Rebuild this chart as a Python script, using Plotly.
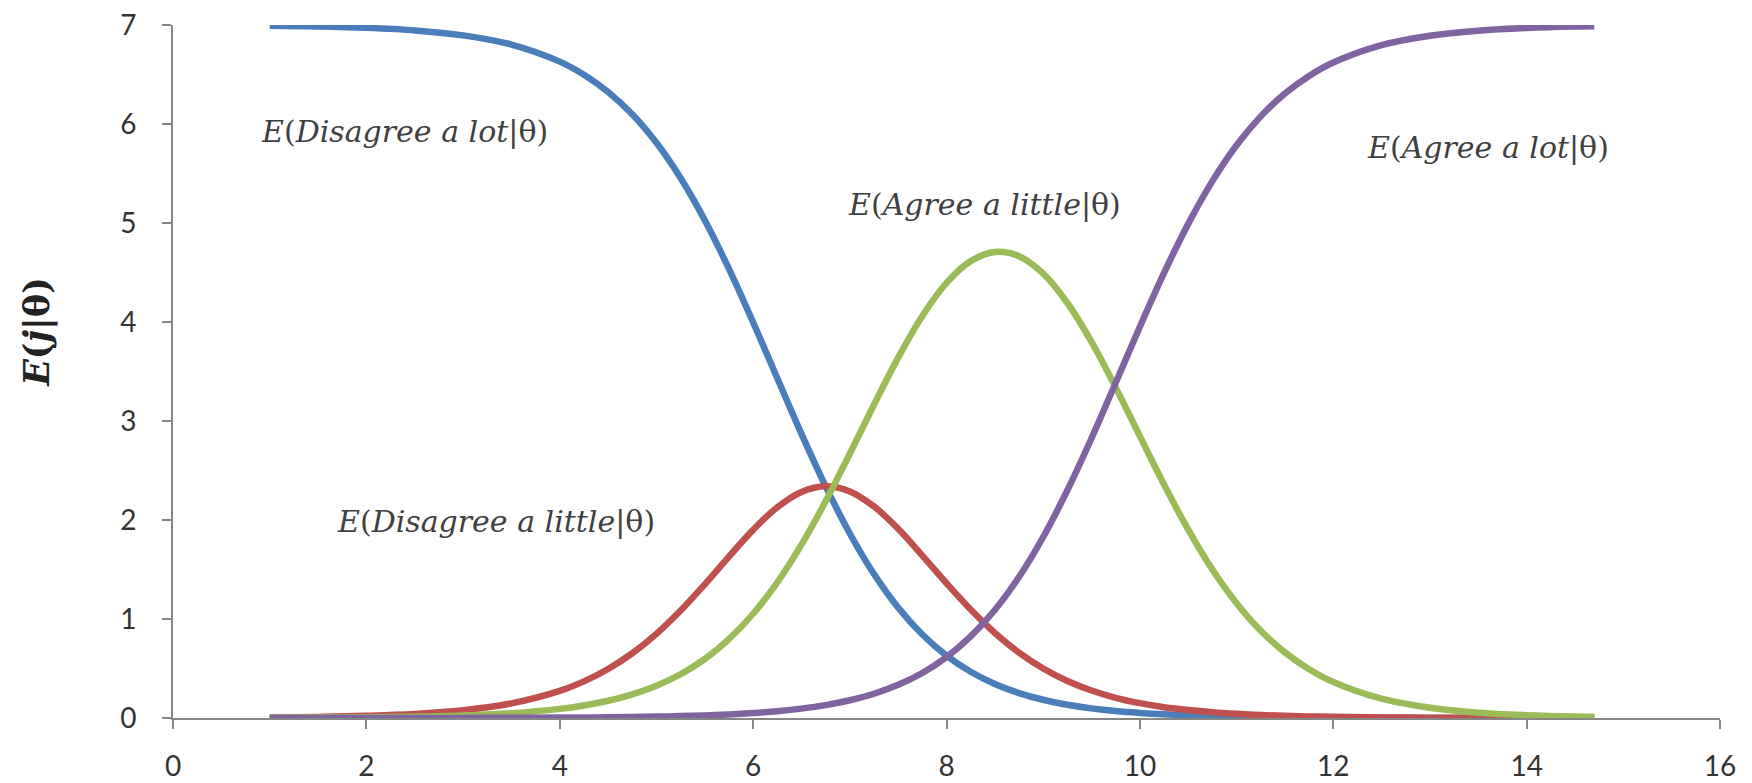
import plotly.graph_objects as go

# theta grid and expected scores
theta = [1.0, 1.5, 2.0, 2.5, 3.0, 3.5, 4.0, 4.25, 4.5, 4.75, 5.0, 5.25, 5.5,
         5.75, 6.0, 6.25, 6.5, 6.75, 7.0, 7.25, 7.5, 7.75, 8.0, 8.25, 8.5,
         8.75, 9.0, 9.25, 9.5, 9.75, 10.0, 10.25, 10.5, 10.75, 11.0, 11.25,
         11.5, 11.75, 12.0, 12.5, 13.0, 13.5, 14.0, 14.5, 14.7]

disagree_lot = [6.992, 6.985, 6.971, 6.945, 6.895, 6.802, 6.630, 6.498, 6.324,
                6.098, 5.810, 5.454, 5.028, 4.537, 3.997, 3.432, 2.870, 2.340,
                1.864, 1.454, 1.115, 0.843, 0.630, 0.467, 0.344, 0.252, 0.184,
                0.134, 0.097, 0.070, 0.051, 0.037, 0.027, 0.019, 0.014, 0.010,
                0.007, 0.005, 0.004, 0.002, 0.001, 0.0005, 0.0003, 0.0001,
                0.0001]

disagree_little = [0.006, 0.011, 0.022, 0.041, 0.078, 0.148, 0.274, 0.370,
                   0.495, 0.654, 0.850, 1.085, 1.350, 1.630, 1.900, 2.129,
                   2.284, 2.341, 2.289, 2.137, 1.911, 1.641, 1.361, 1.095,
                   0.859, 0.661, 0.500, 0.374, 0.278, 0.204, 0.150, 0.109,
                   0.080, 0.058, 0.042, 0.030, 0.022, 0.016, 0.012, 0.006,
                   0.003, 0.002, 0.001, 0.0004, 0.0003]

agree_little = [0.002, 0.004, 0.007, 0.013, 0.025, 0.048, 0.092, 0.127, 0.174,
                0.239, 0.326, 0.442, 0.596, 0.797, 1.053, 1.370, 1.751, 2.189,
                2.669, 3.164, 3.640, 4.061, 4.395, 4.615, 4.707, 4.664, 4.488,
                4.192, 3.800, 3.339, 2.847, 2.358, 1.903, 1.500, 1.160, 0.882,
                0.663, 0.493, 0.364, 0.195, 0.103, 0.054, 0.029, 0.015, 0.012]

agree_lot = [0.0001, 0.0001, 0.0003, 0.0005, 0.001, 0.002, 0.004, 0.005,
             0.007, 0.010, 0.014, 0.019, 0.026, 0.036, 0.050, 0.069, 0.095,
             0.130, 0.179, 0.245, 0.335, 0.455, 0.615, 0.824, 1.091, 1.424,
             1.828, 2.300, 2.826, 3.386, 3.952, 4.496, 4.991, 5.423, 5.785,
             6.077, 6.308, 6.486, 6.621, 6.797, 6.892, 6.943, 6.970, 6.985,
             6.988]

labels = [
    ("<i>E</i>(<i>Disagree a lot</i>|θ)", 0.89, 5.92),
    ("<i>E</i>(<i>Agree a little</i>|θ)", 6.96, 5.19),
    ("<i>E</i>(<i>Agree a lot</i>|θ)", 12.33, 5.76),
    ("<i>E</i>(<i>Disagree a little</i>|θ)", 1.68, 1.98),
]

series = [
    (disagree_lot, "#4A7EBB"),
    (disagree_little, "#C0504D"),
    (agree_little, "#9BBB59"),
    (agree_lot, "#8064A2"),
]

fig = go.Figure()
for vals, col in series:
    fig.add_trace(go.Scatter(
        x=theta, y=vals, mode="lines",
        line=dict(color=col, width=6.5, shape="spline", smoothing=1.0),
        showlegend=False,
    ))

for txt, lx, ly in labels:
    fig.add_annotation(
        x=lx, y=ly, xref="x", yref="y", text=txt, showarrow=False,
        xanchor="left", yanchor="middle",
        font=dict(family="DejaVu Serif", size=30, color="#404040"),
    )

# y-axis title
fig.add_annotation(
    x=-0.088, y=0.557, xref="paper", yref="paper",
    text="<b><i>E</i>(<i>j</i>|θ)</b>", showarrow=False, textangle=-90,
    xanchor="center", yanchor="middle",
    font=dict(family="DejaVu Serif", size=35, color="#222222"),
)

axis_common = dict(
    showgrid=False, zeroline=False, showline=True, automargin=False,
    linecolor="#868686", linewidth=2,
    ticks="outside", ticklen=9, tickwidth=2, tickcolor="#868686",
    ticklabeloverflow="allow",
    tickfont=dict(family="Lato", size=28, color="#333333"),
)

fig.update_xaxes(range=[0, 16], dtick=2, tick0=0, ticklabelstandoff=13, **axis_common)
fig.update_yaxes(range=[0, 7], dtick=1, tick0=0, ticklabelstandoff=20, **axis_common)

# page body adds an 8px offset, margins are set with that in mind
fig.update_layout(
    width=1744, height=783,
    margin=dict(l=165, r=32, t=17, b=73),
    paper_bgcolor="white", plot_bgcolor="white",
)

fig.write_html("out.html")
